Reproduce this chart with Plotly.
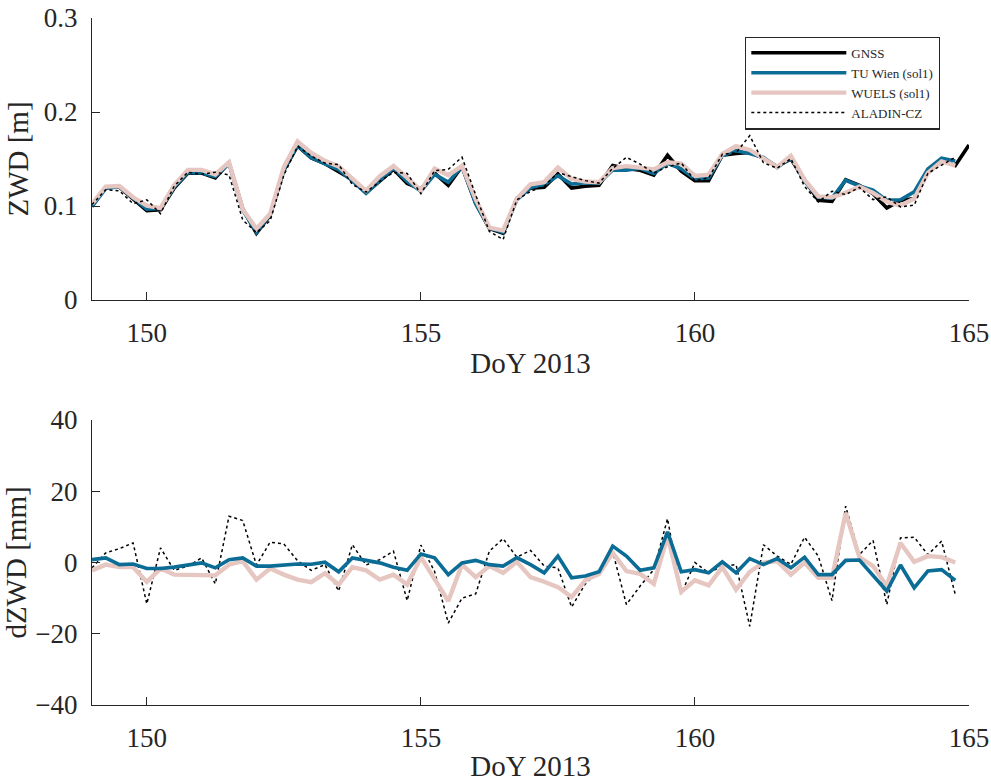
import numpy as np
import plotly.graph_objects as go

# Epochs: 6-hourly, day of year 2013
doy = np.arange(149.0, 165.0001, 0.25)

# GNSS zenith wet delay [m]
zwd_gnss = [
    0.100, 0.120, 0.120, 0.108, 0.095, 0.096, 0.119, 0.135, 0.135, 0.130,
    0.146, 0.097, 0.071, 0.090, 0.138, 0.164, 0.151, 0.145, 0.136, 0.128,
    0.114, 0.127, 0.139, 0.124, 0.118, 0.135, 0.122, 0.142, 0.103, 0.076,
    0.071, 0.108, 0.119, 0.120, 0.134, 0.119, 0.121, 0.122, 0.143, 0.140,
    0.138, 0.133, 0.154, 0.137, 0.127, 0.127, 0.154, 0.156, 0.157, 0.151,
    0.142, 0.150, 0.128, 0.106, 0.105, 0.128, 0.122, 0.113, 0.098, 0.106,
    0.108, 0.137, 0.149, 0.143, 0.165,
]

# dZWD = GNSS - model [mm], epochs 149.00 ... 164.75
dzwd_tuw = [
    0.8, 1.3, -0.6, -0.4, -1.7, -1.7, -1.3, -0.7, -0.1, -1.5,
    0.8, 1.3, -1.0, -1.0, -0.7, -0.4, -0.5, 0.1, -2.6, 1.3,
    0.6, -0.1, -1.3, -2.2, 2.4, 1.3, -3.4, -0.1, 0.6, -0.6,
    -1.0, 1.4, -0.6, -2.9, 1.8, -4.3, -3.8, -2.6, 4.6, 1.8,
    -2.2, -1.5, 8.6, -2.6, -2.0, -2.9, 0.2, -2.9, 1.1, -0.6,
    1.1, -1.5, 1.5, -3.4, -3.4, 0.6, 0.7, -3.8, -8.0, -0.7,
    -7.1, -2.4, -2.0, -5.0,
]
dzwd_wuels = [
    -2.2, -0.6, -1.3, -1.3, -5.4, -1.7, -3.4, -3.4, -3.4, -3.6,
    -0.6, 0.4, -4.8, -1.7, -3.4, -4.8, -5.5, -3.0, -6.2, -1.3,
    -2.2, -4.8, -3.4, -6.2, 1.5, -4.8, -10.8, -0.6, -4.1, -1.0,
    -2.9, 0.2, -4.1, -5.4, -6.9, -9.7, -5.0, -3.2, 2.7, -2.4,
    -3.2, -6.0, 7.4, -8.2, -5.0, -6.4, -1.3, -7.6, -2.6, 0.0,
    0.4, -3.4, 0.0, -4.3, -4.3, 13.9, 1.5, -1.0, -6.6, 5.5,
    0.2, 1.8, 1.5, 0.0,
]
dzwd_aladin = [
    -1.5, 2.7, 3.9, 5.5, -11.6, 4.1, -2.2, -1.0, 1.3, -6.0,
    13.0, 11.8, -0.7, 5.7, 5.2, 0.5, -2.2, -0.6, -8.0, 5.0,
    -0.7, 0.8, 3.2, -10.7, 4.9, -2.5, -17.0, -10.0, -8.8, 3.2,
    6.7, 1.5, 3.4, -1.0, -1.5, -12.5, -6.0, -2.4, 3.0, -11.8,
    -6.6, -2.0, 12.3, -8.8, 0.0, -2.9, -1.0, -0.6, -17.9, 5.0,
    1.8, -0.5, 7.1, 1.8, -10.7, 15.8, 2.2, 6.2, -11.8, 6.9,
    7.1, 2.2, 6.0, -9.0,
]

xticks = [150, 155, 160, 165]
zwd_ticks = [0, 0.1, 0.2, 0.3]
zwd_ticktext = ["0", "0.1", "0.2", "0.3"]
dzwd_ticks = [-40, -20, 0, 20, 40]

# Model ZWD series reconstructed from GNSS and the differences
n = len(dzwd_tuw)
g = np.array(zwd_gnss[:n])
zwd_tuw = g - np.array(dzwd_tuw) / 1000.0
zwd_wuels = g - np.array(dzwd_wuels) / 1000.0
zwd_aladin = g - np.array(dzwd_aladin) / 1000.0
t_mod = doy[:n]

C_GNSS = "#000000"
C_TUW = "#0b6d96"
C_WUELS = "#e6c6c0"
C_ALADIN = "#000000"
FONT = "Liberation Serif, Times New Roman, serif"
AX = "#262626"

W_GNSS, W_TUW, W_WUELS, W_ALADIN = 3.6, 3.6, 4.4, 1.5

fig = go.Figure()

# Upper panel: ZWD
fig.add_trace(go.Scatter(x=doy, y=zwd_gnss, mode="lines", name="GNSS",
                         line=dict(color=C_GNSS, width=W_GNSS), xaxis="x", yaxis="y"))
fig.add_trace(go.Scatter(x=t_mod, y=zwd_tuw, mode="lines", name="TU Wien (sol1)",
                         line=dict(color=C_TUW, width=W_TUW), xaxis="x", yaxis="y"))
fig.add_trace(go.Scatter(x=t_mod, y=zwd_wuels, mode="lines", name="WUELS (sol1)",
                         line=dict(color=C_WUELS, width=W_WUELS), xaxis="x", yaxis="y"))
fig.add_trace(go.Scatter(x=t_mod, y=zwd_aladin, mode="lines", name="ALADIN-CZ",
                         line=dict(color=C_ALADIN, width=W_ALADIN, dash="dot"), xaxis="x", yaxis="y"))

# Lower panel: dZWD
fig.add_trace(go.Scatter(x=t_mod, y=dzwd_aladin, mode="lines", showlegend=False,
                         line=dict(color=C_ALADIN, width=W_ALADIN, dash="dot"), xaxis="x2", yaxis="y2"))
fig.add_trace(go.Scatter(x=t_mod, y=dzwd_wuels, mode="lines", showlegend=False,
                         line=dict(color=C_WUELS, width=W_WUELS), xaxis="x2", yaxis="y2"))
fig.add_trace(go.Scatter(x=t_mod, y=dzwd_tuw, mode="lines", showlegend=False,
                         line=dict(color=C_TUW, width=W_TUW), xaxis="x2", yaxis="y2"))

axis_common = dict(showline=True, linecolor=AX, linewidth=1.3, ticks="inside",
                   ticklen=8, tickwidth=1.3, tickcolor=AX, showgrid=False,
                   zeroline=False, mirror=False, ticklabelstandoff=8,
                   automargin=False,
                   tickfont=dict(family=FONT, size=27, color=AX))
title_font = dict(family=FONT, size=29, color=AX)

fig.update_layout(
    width=991, height=782,
    margin=dict(l=92, r=22, t=18, b=77, autoexpand=False),
    paper_bgcolor="white", plot_bgcolor="white",
    font=dict(family=FONT, color=AX),
    xaxis=dict(axis_common, domain=[0, 1], range=[149, 165], tickvals=xticks,
               anchor="y", title=dict(text="DoY 2013", font=title_font, standoff=6)),
    yaxis=dict(axis_common, domain=[0.5895, 1.0], range=[0, 0.3], tickvals=zwd_ticks,
               ticktext=zwd_ticktext, anchor="x",
               title=dict(text="ZWD [m]", font=title_font, standoff=6)),
    xaxis2=dict(axis_common, domain=[0, 1], range=[149, 165], tickvals=xticks,
                anchor="y2", title=dict(text="DoY 2013", font=title_font, standoff=6)),
    yaxis2=dict(axis_common, domain=[0, 0.4148], range=[-40, 40], tickvals=dzwd_ticks,
                anchor="x2",
                title=dict(text="dZWD [mm]", font=title_font, standoff=6)),
    legend=dict(x=0.7446, y=0.973, xanchor="left", yanchor="top",
                bgcolor="white", bordercolor=AX, borderwidth=1.3,
                font=dict(family=FONT, size=13, color=AX),
                itemwidth=95, tracegroupgap=0),
    showlegend=True,
)

fig.write_html("out.html")
